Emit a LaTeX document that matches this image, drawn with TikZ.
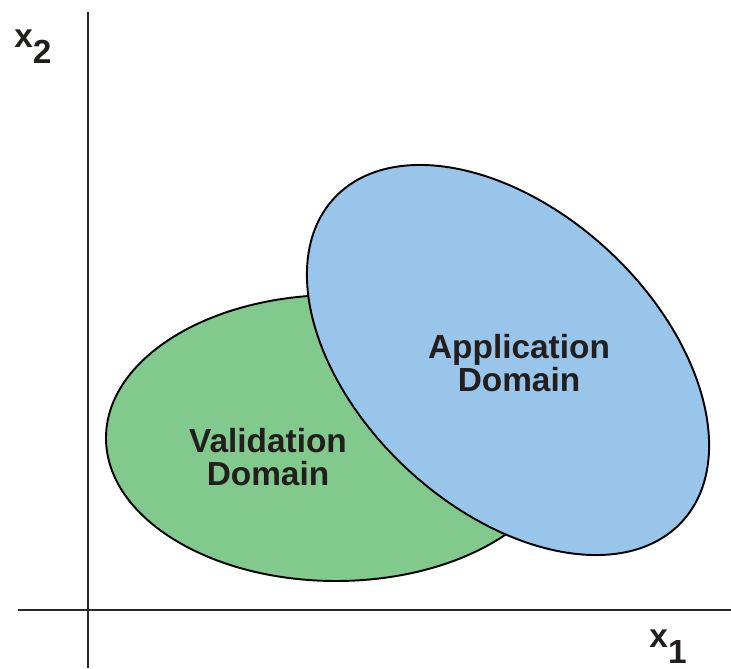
\documentclass[tikz,border=0pt]{standalone}
\usepackage{fontspec}
\setmainfont{Liberation Sans}
\definecolor{ValidColor}{RGB}{130,201,141}
\definecolor{ApplColor}{RGB}{153,197,234}
\definecolor{AxisColor}{RGB}{40,40,40}
\definecolor{TextColor}{RGB}{35,30,30}
\usetikzlibrary{positioning}
\tikzstyle{axis} = [line width=1.3pt, AxisColor]
\tikzstyle{domainshape} = [line width=1.1pt, draw=black]
\tikzstyle{domlabel} = [align=center, text=TextColor, font=\fontsize{19}{18.5}\selectfont\bfseries]
\tikzstyle{axlabel} = [text=TextColor, font=\fontsize{19}{19}\selectfont\bfseries, inner sep=0pt]

\begin{document}
\begin{tikzpicture}
            \useasboundingbox (0,0) rectangle (14.62,13.36);
            % Axes
            \coordinate (origin) at (1.76,1.16);
            \coordinate (xend) at (14.62,1.16);
            \coordinate (xstart) at (0.36,1.16);
            \coordinate (ytop) at (1.76,13.12);
            \coordinate (ybot) at (1.76,0);
            \draw[axis] (xstart) -- (xend);
            \draw[axis] (ybot) -- (ytop);
            \node[axlabel] (x2) at (0.66,12.42) {x\raisebox{-0.47em}{2}};
            \node[axlabel] (x1) at (13.36,0.42) {x\raisebox{-0.47em}{1}};

            % Validation Domain
            \draw[domainshape, fill=ValidColor] (6.72,4.6) ellipse [x radius=4.6, y radius=2.86];
            \node[domlabel] (valid) at (5.36,4.22) {Validation\\Domain};

            % Application Domain
            \draw[domainshape, fill=ApplColor, rotate around={-43:(10.16,6.16)}] (10.16,6.16) ellipse [x radius=4.75, y radius=2.97];
            \node[domlabel] (appl) at (10.38,6.10) {Application\\Domain};
        \end{tikzpicture}
\end{document}
